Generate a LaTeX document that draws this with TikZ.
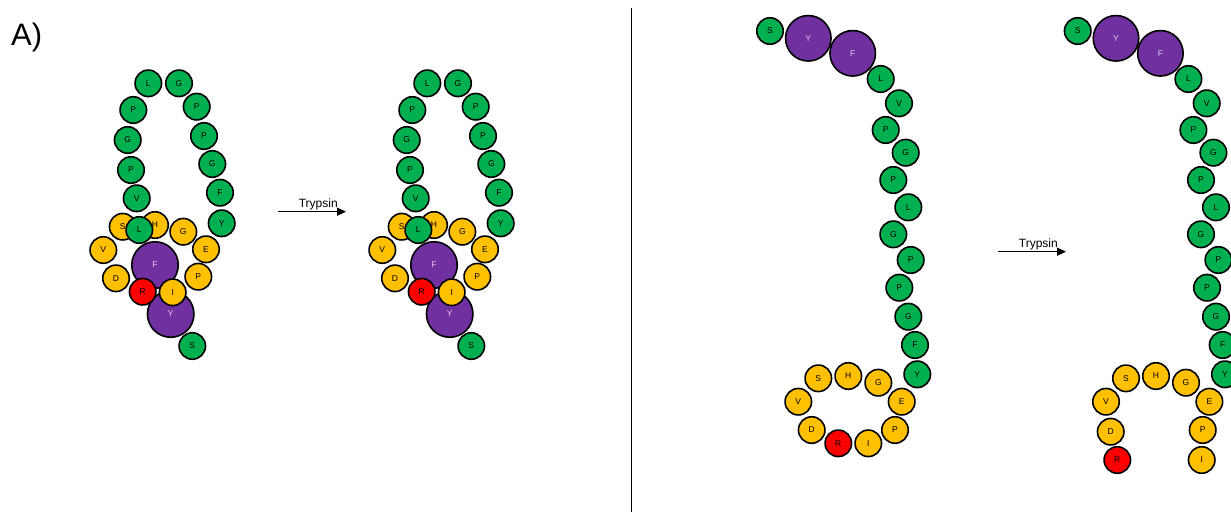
\documentclass[tikz,border=0pt]{standalone}
\usepackage{fontspec}
\setmainfont{Liberation Sans}
\usetikzlibrary{arrows.meta}
\definecolor{grn}{HTML}{00B050}
\definecolor{ylw}{HTML}{FFC000}
\definecolor{prp}{HTML}{7030A0}
\definecolor{rd}{HTML}{FF0000}
\definecolor{lav}{HTML}{DCCDEB}
\tikzset{
  aa/.style={circle, draw=black, line width=1.6pt, minimum size=26.5pt, inner sep=0pt,
    font=\fontsize{8.5}{8.5}\selectfont},
  gn/.style={aa, fill=grn},
  yw/.style={aa, fill=ylw},
  rn/.style={aa, fill=rd},
  pl/.style={aa, fill=prp, minimum size=46.5pt, text=lav},
  pr/.style={aa, fill=prp, minimum size=45.5pt, text=lav},
  arr/.style={line width=1.5pt, -{Triangle[length=9pt,width=8pt]}},
  lbl/.style={font=\fontsize{12}{12}\selectfont, inner sep=0pt, anchor=base}
}
\begin{document}
\begin{tikzpicture}[x=1pt,y=-1pt]
\useasboundingbox (0,0) rectangle (1231,512);
\node[font=\fontsize{31}{31}\selectfont, anchor=base west, inner sep=0pt] (A) at (11,45) {A)};
\coordinate (dtop) at (631.5,8);
\coordinate (dbot) at (631.5,512);
\draw[line width=1.4pt] (dtop) -- (dbot);
% left structures (closed form, twice)
\foreach \p/\dx in {a/0, b/279}{
\begin{scope}[shift={(\dx,0)}]
\node[pl] (\p F) at (155,265) {F};
\node[pl] (\p Y) at (170.7,314) {Y};
\node[yw] (\p S) at (122.7,226.7) {S};
\node[yw] (\p H) at (155,225) {H};
\node[yw] (\p G) at (183.3,231.7) {G};
\node[yw] (\p V) at (103.3,250) {V};
\node[yw] (\p E) at (206,249.3) {E};
\node[yw] (\p D) at (116,278.3) {D};
\node[yw] (\p P) at (198.3,276.7) {P};
\node[rn] (\p R) at (142.7,291.7) {R};
\node[yw] (\p I) at (172.7,292.3) {I};
\node[gn] (\p L1) at (148.3,83.3) {L};
\node[gn] (\p G1) at (179,83.3) {G};
\node[gn] (\p P1) at (133.3,110) {P};
\node[gn] (\p G2) at (127.7,140) {G};
\node[gn] (\p P2) at (131,170) {P};
\node[gn] (\p V2) at (136.7,198.3) {V};
\node[gn] (\p L2) at (139.3,230) {L};
\node[gn] (\p P3) at (196.7,106.7) {P};
\node[gn] (\p P4) at (204,136) {P};
\node[gn] (\p G3) at (212.3,164) {G};
\node[gn] (\p F2) at (220,192.7) {F};
\node[gn] (\p Y2) at (221.7,223.3) {Y};
\node[gn] (\p S2) at (192.3,346) {S};
\end{scope}
}
% right structures (open form, twice)
\foreach \p/\dx in {c/0, d/307.7}{
\begin{scope}[shift={(\dx,0)}]
\node[gn] (\p S0) at (770,31) {S};
\node[pr] (\p Y0) at (808.3,38.3) {Y};
\node[pr] (\p F0) at (852.7,53.3) {F};
\node[gn] (\p L1) at (880.7,79) {L};
\node[gn] (\p V1) at (899,103.3) {V};
\node[gn] (\p P1) at (885.7,130) {P};
\node[gn] (\p G1) at (905.7,152.7) {G};
\node[gn] (\p P2) at (893.3,180) {P};
\node[gn] (\p L2) at (908.3,207.3) {L};
\node[gn] (\p G2) at (893.3,234.3) {G};
\node[gn] (\p P3) at (910.7,260) {P};
\node[gn] (\p P4) at (899.3,287.7) {P};
\node[gn] (\p G3) at (908.3,316.7) {G};
\node[gn] (\p F1) at (915,345) {F};
\node[gn] (\p Y1) at (917.3,374.3) {Y};
\node[yw] (\p E) at (901.7,401.7) {E};
\node[yw] (\p P) at (895,430) {P};
\node[yw] (\p G) at (878.3,382.7) {G};
\node[yw] (\p H) at (848.3,376) {H};
\node[yw] (\p S) at (818.3,378.3) {S};
\node[yw] (\p V) at (798.3,401.7) {V};
\end{scope}
}
\node[yw] (cI) at (868.3,443.3) {I};
\node[rn] (cR) at (838.3,443.3) {R};
\node[yw] (cD) at (811.7,430) {D};
\node[yw] (dD) at (1110.7,431.7) {D};
\node[rn] (dR) at (1117.3,460) {R};
\node[yw] (dI) at (1201.7,460) {I};
% arrows
\coordinate (a1s) at (278.3,211.7);
\coordinate (a1e) at (346,211.7);
\draw[arr] (a1s) -- (a1e);
\node[lbl] (t1) at (318.3,207.5) {Trypsin};
\coordinate (a2s) at (998.3,251.7);
\coordinate (a2e) at (1066,251.7);
\draw[arr] (a2s) -- (a2e);
\node[lbl] (t2) at (1038.3,247.5) {Trypsin};
\end{tikzpicture}
\end{document}
